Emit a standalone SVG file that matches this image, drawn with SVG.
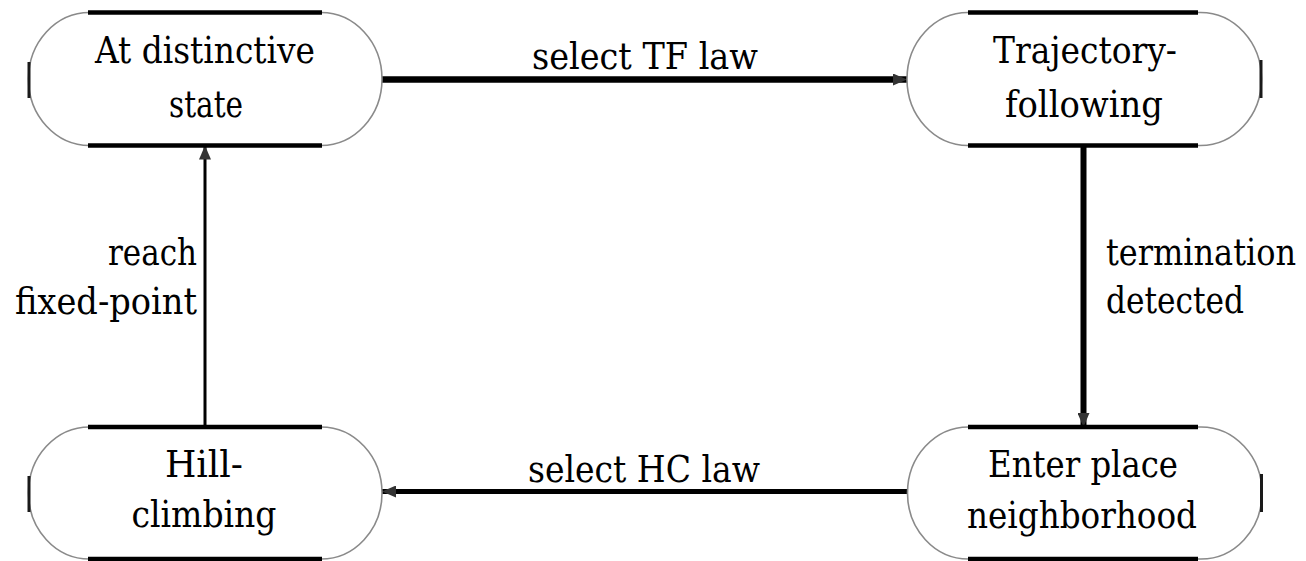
<svg xmlns="http://www.w3.org/2000/svg" width="1306" height="561" viewBox="0 0 1306 561">
<style>
  .shape { fill: #ffffff; stroke: #8a8a8a; stroke-width: 1.6; }
  .edge-top { stroke: #000000; stroke-width: 4.5; fill: none; }
  .edge-side { stroke: #1a1a1a; stroke-width: 3; fill: none; }
  .ntext { font-family: 'DejaVu Serif Condensed', 'DejaVu Serif', serif; font-stretch: condensed; font-size: 37px; fill: #000000; text-anchor: middle; }
  .ltext { font-family: 'DejaVu Serif Condensed', 'DejaVu Serif', serif; font-stretch: condensed; font-size: 37px; fill: #000000; }
  .conn { stroke: #000000; fill: none; }
</style>
<defs>
  <marker id="arrow" viewBox="0 0 14 12" refX="14" refY="6" markerWidth="14" markerHeight="12" markerUnits="userSpaceOnUse" orient="auto">
    <path d="M0,0 L14,6 L0,12 z" fill="#333333"/>
  </marker>
</defs>
<rect width="1306" height="561" fill="#ffffff"/>

<g id="connectors">
  <line class="conn" x1="382" y1="79.5" x2="907" y2="79.5" stroke-width="6.5" marker-end="url(#arrow)"/>
  <line class="conn" x1="1083.5" y1="145" x2="1083.5" y2="427" stroke-width="6" marker-end="url(#arrow)"/>
  <line class="conn" x1="908" y1="491.5" x2="382" y2="491.5" stroke-width="5" marker-end="url(#arrow)"/>
  <line class="conn" x1="205" y1="427" x2="205" y2="145.5" stroke-width="3" marker-end="url(#arrow)"/>
  <text class="ltext" x="645" y="69" text-anchor="middle" textLength="226" lengthAdjust="spacingAndGlyphs">select TF law</text>
  <text class="ltext" x="644" y="482" text-anchor="middle" textLength="232" lengthAdjust="spacingAndGlyphs">select HC law</text>
  <text class="ltext" x="1106" y="265" textLength="190" lengthAdjust="spacingAndGlyphs">termination</text>
  <text class="ltext" x="1106" y="313" textLength="138" lengthAdjust="spacingAndGlyphs">detected</text>
  <text class="ltext" x="197" y="265" text-anchor="end" textLength="89" lengthAdjust="spacingAndGlyphs">reach</text>
  <text class="ltext" x="197" y="314" text-anchor="end" textLength="182" lengthAdjust="spacingAndGlyphs">fixed-point</text>
</g>

<g id="node-distinctive">
  <rect class="shape" x="28.5" y="12.5" width="353.5" height="133" rx="61" ry="66.5"/>
  <line class="edge-top" x1="88" y1="12.5" x2="322" y2="12.5"/>
  <line class="edge-top" x1="88" y1="145.5" x2="322" y2="145.5"/>
  <line class="edge-side" x1="29" y1="62" x2="29" y2="98"/>
  <text class="ntext" x="205" y="63" textLength="220" lengthAdjust="spacingAndGlyphs">At distinctive</text>
  <text class="ntext" x="206" y="117" textLength="74" lengthAdjust="spacingAndGlyphs">state</text>
</g>

<g id="node-trajectory">
  <rect class="shape" x="907" y="12.5" width="354.5" height="133" rx="61" ry="66.5"/>
  <line class="edge-top" x1="968" y1="12.5" x2="1198" y2="12.5"/>
  <line class="edge-top" x1="968" y1="145.5" x2="1198" y2="145.5"/>
  <line class="edge-side" x1="1261" y1="60" x2="1261" y2="98"/>
  <text class="ntext" x="1085" y="63" textLength="184" lengthAdjust="spacingAndGlyphs">Trajectory-</text>
  <text class="ntext" x="1084" y="117" textLength="158" lengthAdjust="spacingAndGlyphs">following</text>
</g>

<g id="node-enter-place">
  <rect class="shape" x="907.5" y="427" width="354.5" height="132" rx="61" ry="66"/>
  <line class="edge-top" x1="968" y1="427" x2="1198" y2="427"/>
  <line class="edge-top" x1="968" y1="559" x2="1198" y2="559"/>
  <line class="edge-side" x1="1261.5" y1="474" x2="1261.5" y2="512"/>
  <text class="ntext" x="1083" y="477" textLength="190" lengthAdjust="spacingAndGlyphs">Enter place</text>
  <text class="ntext" x="1082" y="528" textLength="230" lengthAdjust="spacingAndGlyphs">neighborhood</text>
</g>

<g id="node-hill-climbing">
  <rect class="shape" x="28.5" y="427" width="353.5" height="132" rx="61" ry="66"/>
  <line class="edge-top" x1="88" y1="427" x2="322" y2="427"/>
  <line class="edge-top" x1="88" y1="559" x2="322" y2="559"/>
  <line class="edge-side" x1="29" y1="476" x2="29" y2="512"/>
  <text class="ntext" x="204" y="477" textLength="78" lengthAdjust="spacingAndGlyphs">Hill-</text>
  <text class="ntext" x="204" y="527" textLength="145" lengthAdjust="spacingAndGlyphs">climbing</text>
</g>
</svg>
